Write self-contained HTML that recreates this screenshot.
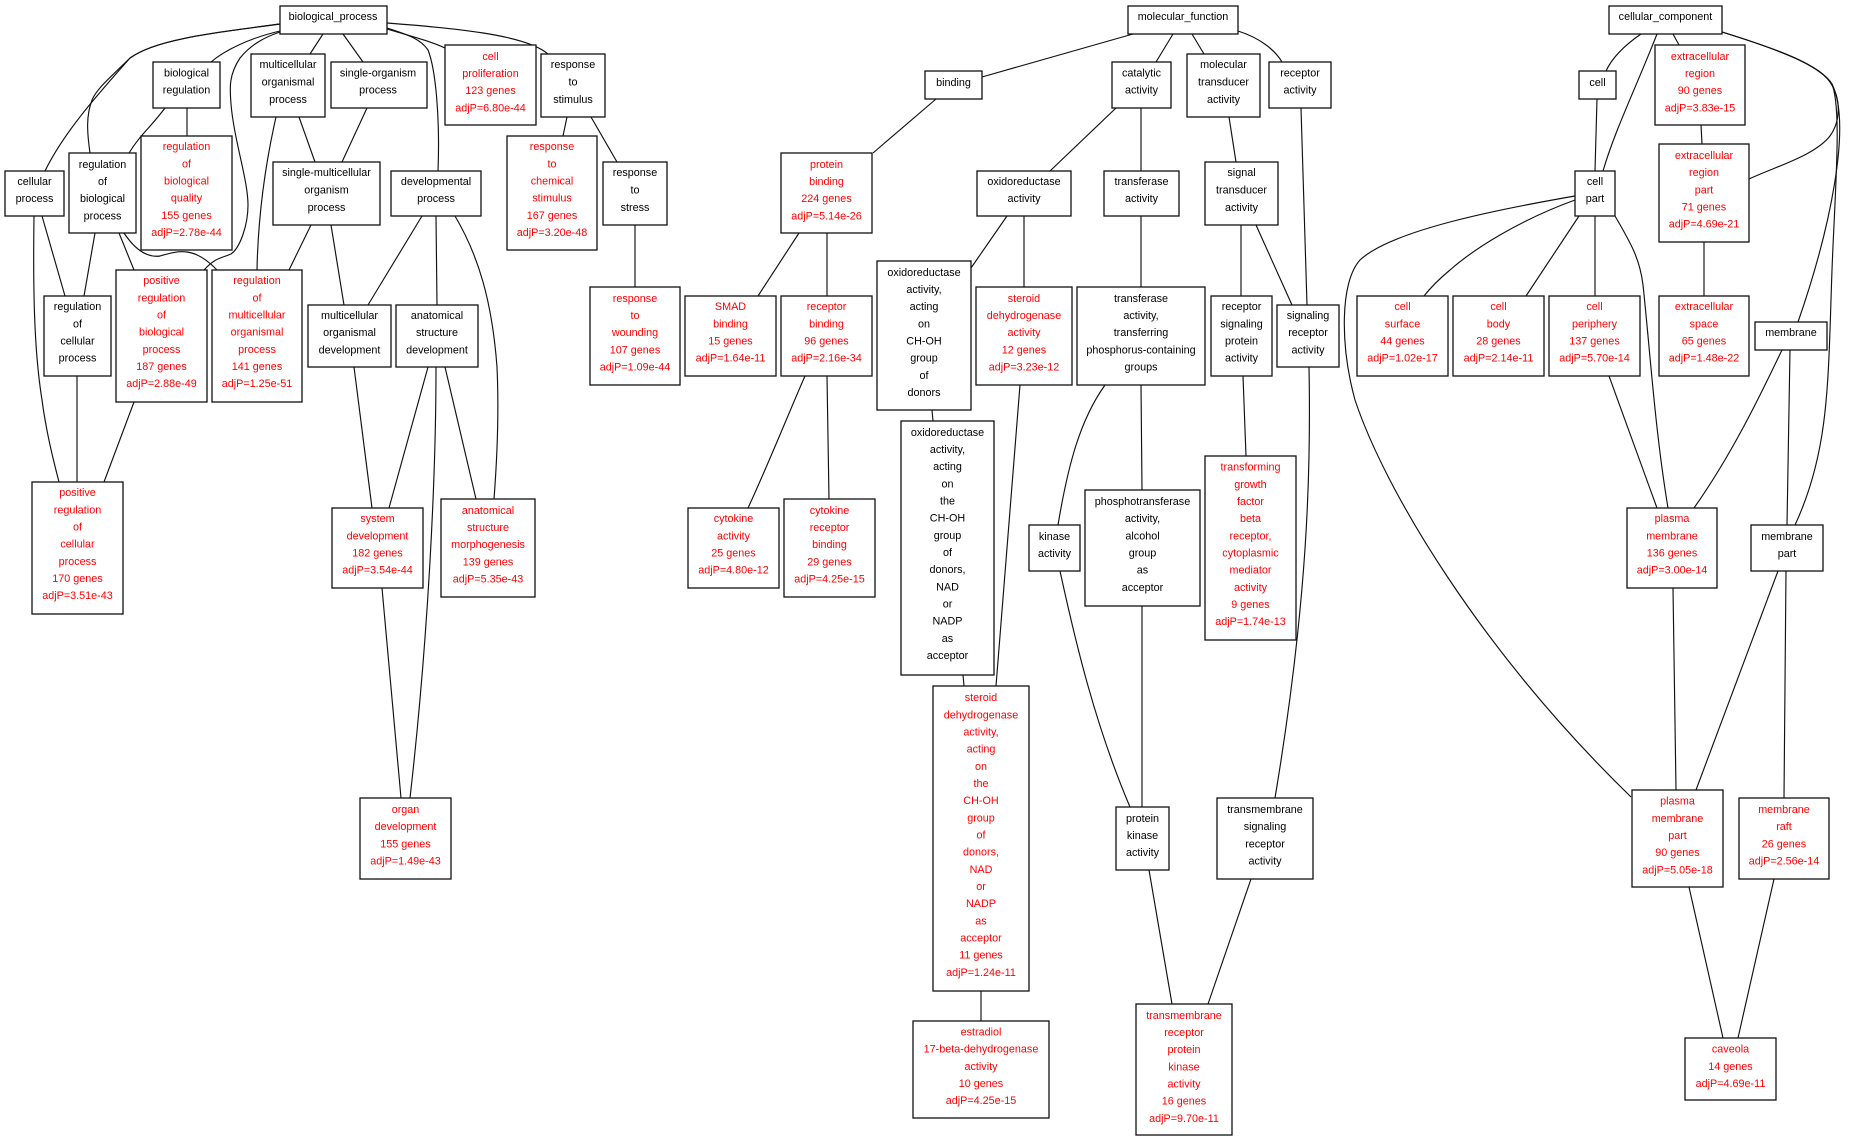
<!DOCTYPE html>
<html>
<head>
<meta charset="utf-8">
<style>
html,body{margin:0;padding:0;background:#fff;}
svg{display:block;}
text{font-family:"Liberation Sans",sans-serif;font-size:10.8px;text-anchor:middle;fill:#000;}
text.r{fill:#f00;}
rect{fill:#fff;stroke:#111;stroke-width:1.3;}
path{fill:none;stroke:#111;stroke-width:1.15;}
</style>
</head>
<body>
<svg xmlns="http://www.w3.org/2000/svg" width="1849" height="1141" viewBox="0 0 1849 1141">
<rect x="-2" y="-2" width="1853" height="1145" style="fill:#fff;stroke:none"/>
<g>
<path d="M280,24 C205,34 155,40 130,58 C102,90 65,130 45,171"/>
<path d="M280,24 C205,34 155,40 130,58 C112,76 97,88 92,100 C86,116 87,132 90,153"/>
<path d="M280,31 C250,38 225,50 211,62"/>
<path d="M280,32 C262,38 250,46 240,58 C228,76 230,90 231,104 C234,140 248,180 248,205 C248,225 240,248 231,254 C222,258 216,257 204,270"/>
<path d="M323,34 L310,54"/>
<path d="M343,34 L363,62"/>
<path d="M387,28 C405,34 420,38 428,50 C436,70 440,120 438,171"/>
<path d="M387,29 C410,36 430,41 445,48"/>
<path d="M387,23 C450,28 525,34 548,54"/>
<path d="M165,108 C150,128 140,135 129,153"/>
<path d="M187,108 L187,136"/>
<path d="M299,117 L315,162"/>
<path d="M276,117 C264,170 258,220 257,270"/>
<path d="M367,108 L342,162"/>
<path d="M311,225 L289,270"/>
<path d="M331,225 L344,305"/>
<path d="M422,216 L368,305"/>
<path d="M436,216 L437,305"/>
<path d="M455,216 C478,255 492,300 497,367 C499,410 497,460 494,499"/>
<path d="M567,117 L563,136"/>
<path d="M591,117 L617,162"/>
<path d="M635,225 L635,287"/>
<path d="M42,216 L65,296"/>
<path d="M34,216 C33,290 34,350 42,400 C46,430 52,455 59,482"/>
<path d="M95,233 L84,296"/>
<path d="M119,233 L134,270"/>
<path d="M124,233 C134,248 146,258 160,256 C180,250 195,247 217,270"/>
<path d="M77,376 L77,482"/>
<path d="M134,402 L104,482"/>
<path d="M354,367 L372,508"/>
<path d="M428,367 L389,508"/>
<path d="M436,367 C436,480 428,640 410,798"/>
<path d="M445,367 L476,499"/>
<path d="M382,588 L401,798"/>

<path d="M1133,34 L982,77"/>
<path d="M1173,34 L1156,62"/>
<path d="M1192,34 L1204,54"/>
<path d="M1238,31 C1260,38 1275,50 1282,62"/>
<path d="M936,99 L873,153"/>
<path d="M1116,108 L1050,171"/>
<path d="M1141,108 L1141,171"/>
<path d="M1229,117 L1236,162"/>
<path d="M1301,108 L1307,305"/>
<path d="M1241,225 L1241,296"/>
<path d="M1256,225 L1292,305"/>
<path d="M799,233 L758,296"/>
<path d="M827,233 L827,296"/>
<path d="M1007,216 L971,268"/>
<path d="M1024,216 L1024,287"/>
<path d="M1141,216 L1141,287"/>
<path d="M805,376 C790,410 768,465 748,508"/>
<path d="M827,376 L829,499"/>
<path d="M932,410 L933,421"/>
<path d="M963,675 L964,686"/>
<path d="M1020,385 L996,686"/>
<path d="M981,991 L981,1021"/>
<path d="M1105,385 C1080,420 1068,465 1058,525"/>
<path d="M1141,385 L1142,490"/>
<path d="M1060,571 C1075,640 1095,725 1130,807"/>
<path d="M1142,606 L1142,807"/>
<path d="M1149,870 L1172,1004"/>
<path d="M1251,879 L1208,1004"/>
<path d="M1243,376 L1246,456"/>
<path d="M1309,367 C1311,470 1308,600 1275,798"/>

<path d="M1641,34 C1625,45 1612,58 1606,71"/>
<path d="M1657,34 C1635,90 1615,130 1603,171"/>
<path d="M1673,34 L1679,45"/>
<path d="M1722,32 C1780,50 1818,65 1830,82 C1842,100 1840,122 1830,136 C1815,155 1780,165 1749,179"/>
<path d="M1722,32 C1780,50 1820,65 1832,84 C1852,125 1830,230 1798,322"/>
<path d="M1722,32 C1780,50 1820,65 1832,84 C1842,110 1835,190 1832,270 C1828,380 1830,450 1795,525"/>
<path d="M1597,99 L1595,171"/>
<path d="M1701,125 L1702,144"/>
<path d="M1704,242 L1704,296"/>
<path d="M1575,200 C1520,220 1475,248 1450,270 C1438,280 1431,287 1424,296"/>
<path d="M1579,216 L1526,296"/>
<path d="M1595,216 L1595,296"/>
<path d="M1615,216 C1632,245 1640,260 1643,285 C1650,350 1655,430 1668,508"/>
<path d="M1609,376 L1657,508"/>
<path d="M1782,350 C1765,385 1735,450 1694,508"/>
<path d="M1790,350 L1787,525"/>
<path d="M1575,196 C1500,209 1392,230 1360,260 C1340,282 1340,345 1355,400 C1385,490 1480,650 1631,797"/>
<path d="M1673,588 L1676,790"/>
<path d="M1778,571 L1696,790"/>
<path d="M1786,571 L1784,798"/>
<path d="M1689,887 L1723,1038"/>
<path d="M1774,879 L1738,1038"/>
</g>

<rect x="280" y="6" width="107" height="28"/><text x="333" y="20">biological_process</text>
<rect x="153" y="62" width="67" height="46"/><text x="186.500" y="76.500">biological<tspan x="186.500" dy="17">regulation</tspan></text>
<rect x="251" y="54" width="74" height="63"/><text x="288" y="68">multicellular<tspan x="288" dy="17.500">organismal</tspan><tspan x="288" dy="17.500">process</tspan></text>
<rect x="331" y="62" width="96" height="46"/><text x="378" y="76.500">single-organism<tspan x="378" dy="17">process</tspan></text>
<rect x="445" y="45" width="91" height="80"/><text class="r" x="490.500" y="60">cell<tspan x="490.500" dy="17">proliferation</tspan><tspan x="490.500" dy="17">123 genes</tspan><tspan x="490.500" dy="17.500">adjP=6.80e-44</tspan></text>
<rect x="541" y="54" width="64" height="63"/><text x="573" y="68">response<tspan x="573" dy="17.500">to</tspan><tspan x="573" dy="17.500">stimulus</tspan></text>
<rect x="141" y="136" width="91" height="114"/><text class="r" x="186.500" y="150">regulation<tspan x="186.500" dy="17.500">of</tspan><tspan x="186.500" dy="17">biological</tspan><tspan x="186.500" dy="17">quality</tspan><tspan x="186.500" dy="17.500">155 genes</tspan><tspan x="186.500" dy="17">adjP=2.78e-44</tspan></text>
<rect x="507" y="136" width="90" height="114"/><text class="r" x="552" y="150">response<tspan x="552" dy="17.500">to</tspan><tspan x="552" dy="17">chemical</tspan><tspan x="552" dy="17">stimulus</tspan><tspan x="552" dy="17.500">167 genes</tspan><tspan x="552" dy="17">adjP=3.20e-48</tspan></text>
<rect x="69" y="153" width="67" height="80"/><text x="102.500" y="168">regulation<tspan x="102.500" dy="17">of</tspan><tspan x="102.500" dy="17">biological</tspan><tspan x="102.500" dy="17.500">process</tspan></text>
<rect x="5" y="171" width="59" height="45"/><text x="34.500" y="185">cellular<tspan x="34.500" dy="17">process</tspan></text>
<rect x="273" y="162" width="107" height="63"/><text x="326.500" y="176">single-multicellular<tspan x="326.500" dy="17.500">organism</tspan><tspan x="326.500" dy="17.500">process</tspan></text>
<rect x="391" y="171" width="90" height="45"/><text x="436" y="185">developmental<tspan x="436" dy="17">process</tspan></text>
<rect x="603" y="162" width="64" height="63"/><text x="635" y="176">response<tspan x="635" dy="17.500">to</tspan><tspan x="635" dy="17.500">stress</tspan></text>
<rect x="116" y="270" width="91" height="132"/><text class="r" x="161.500" y="284">positive<tspan x="161.500" dy="17.500">regulation</tspan><tspan x="161.500" dy="17">of</tspan><tspan x="161.500" dy="17">biological</tspan><tspan x="161.500" dy="17.500">process</tspan><tspan x="161.500" dy="17">187 genes</tspan><tspan x="161.500" dy="17">adjP=2.88e-49</tspan></text>
<rect x="212" y="270" width="90" height="132"/><text class="r" x="257" y="284">regulation<tspan x="257" dy="17.500">of</tspan><tspan x="257" dy="17">multicellular</tspan><tspan x="257" dy="17">organismal</tspan><tspan x="257" dy="17.500">process</tspan><tspan x="257" dy="17">141 genes</tspan><tspan x="257" dy="17">adjP=1.25e-51</tspan></text>
<rect x="44" y="296" width="67" height="80"/><text x="77.500" y="310">regulation<tspan x="77.500" dy="17.500">of</tspan><tspan x="77.500" dy="17">cellular</tspan><tspan x="77.500" dy="17">process</tspan></text>
<rect x="308" y="305" width="83" height="62"/><text x="349.500" y="319">multicellular<tspan x="349.500" dy="17">organismal</tspan><tspan x="349.500" dy="17.500">development</tspan></text>
<rect x="396" y="305" width="82" height="62"/><text x="437" y="319">anatomical<tspan x="437" dy="17">structure</tspan><tspan x="437" dy="17.500">development</tspan></text>
<rect x="590" y="287" width="90" height="98"/><text class="r" x="635" y="302">response<tspan x="635" dy="17">to</tspan><tspan x="635" dy="17">wounding</tspan><tspan x="635" dy="17.500">107 genes</tspan><tspan x="635" dy="17">adjP=1.09e-44</tspan></text>
<rect x="32" y="482" width="91" height="132"/><text class="r" x="77.500" y="496">positive<tspan x="77.500" dy="17.500">regulation</tspan><tspan x="77.500" dy="17">of</tspan><tspan x="77.500" dy="17">cellular</tspan><tspan x="77.500" dy="17.500">process</tspan><tspan x="77.500" dy="17">170 genes</tspan><tspan x="77.500" dy="17">adjP=3.51e-43</tspan></text>
<rect x="332" y="508" width="91" height="80"/><text class="r" x="377.500" y="522">system<tspan x="377.500" dy="17.500">development</tspan><tspan x="377.500" dy="17">182 genes</tspan><tspan x="377.500" dy="17">adjP=3.54e-44</tspan></text>
<rect x="441" y="499" width="94" height="98"/><text class="r" x="488" y="514">anatomical<tspan x="488" dy="17">structure</tspan><tspan x="488" dy="17">morphogenesis</tspan><tspan x="488" dy="17.500">139 genes</tspan><tspan x="488" dy="17">adjP=5.35e-43</tspan></text>
<rect x="360" y="798" width="91" height="81"/><text class="r" x="405.500" y="813">organ<tspan x="405.500" dy="17">development</tspan><tspan x="405.500" dy="17.500">155 genes</tspan><tspan x="405.500" dy="17">adjP=1.49e-43</tspan></text>

<rect x="1128" y="6" width="110" height="28"/><text x="1183" y="20">molecular_function</text>
<rect x="925" y="71" width="57" height="28"/><text x="953.500" y="86">binding</text>
<rect x="1112" y="62" width="59" height="46"/><text x="1141.500" y="76.500">catalytic<tspan x="1141.500" dy="17">activity</tspan></text>
<rect x="1187" y="54" width="73" height="63"/><text x="1223.500" y="68">molecular<tspan x="1223.500" dy="17.500">transducer</tspan><tspan x="1223.500" dy="17.500">activity</tspan></text>
<rect x="1269" y="62" width="62" height="46"/><text x="1300" y="76.500">receptor<tspan x="1300" dy="17">activity</tspan></text>
<rect x="781" y="153" width="91" height="80"/><text class="r" x="826.500" y="168">protein<tspan x="826.500" dy="17">binding</tspan><tspan x="826.500" dy="17">224 genes</tspan><tspan x="826.500" dy="17.500">adjP=5.14e-26</tspan></text>
<rect x="977" y="171" width="94" height="45"/><text x="1024" y="185">oxidoreductase<tspan x="1024" dy="17">activity</tspan></text>
<rect x="1104" y="171" width="75" height="45"/><text x="1141.500" y="185">transferase<tspan x="1141.500" dy="17">activity</tspan></text>
<rect x="1205" y="162" width="73" height="63"/><text x="1241.500" y="176">signal<tspan x="1241.500" dy="17.500">transducer</tspan><tspan x="1241.500" dy="17.500">activity</tspan></text>
<rect x="685" y="296" width="91" height="80"/><text class="r" x="730.500" y="310">SMAD<tspan x="730.500" dy="17.500">binding</tspan><tspan x="730.500" dy="17">15 genes</tspan><tspan x="730.500" dy="17">adjP=1.64e-11</tspan></text>
<rect x="781" y="296" width="91" height="80"/><text class="r" x="826.500" y="310">receptor<tspan x="826.500" dy="17.500">binding</tspan><tspan x="826.500" dy="17">96 genes</tspan><tspan x="826.500" dy="17">adjP=2.16e-34</tspan></text>
<rect x="877" y="261" width="94" height="149"/><text x="924" y="276">oxidoreductase<tspan x="924" dy="17">activity,</tspan><tspan x="924" dy="17">acting</tspan><tspan x="924" dy="17.500">on</tspan><tspan x="924" dy="17">CH-OH</tspan><tspan x="924" dy="17">group</tspan><tspan x="924" dy="17.500">of</tspan><tspan x="924" dy="17">donors</tspan></text>
<rect x="976" y="287" width="96" height="98"/><text class="r" x="1024" y="302">steroid<tspan x="1024" dy="17">dehydrogenase</tspan><tspan x="1024" dy="17">activity</tspan><tspan x="1024" dy="17.500">12 genes</tspan><tspan x="1024" dy="17">adjP=3.23e-12</tspan></text>
<rect x="1077" y="287" width="128" height="98"/><text x="1141" y="302">transferase<tspan x="1141" dy="17">activity,</tspan><tspan x="1141" dy="17">transferring</tspan><tspan x="1141" dy="17.500">phosphorus-containing</tspan><tspan x="1141" dy="17">groups</tspan></text>
<rect x="1211" y="296" width="61" height="80"/><text x="1241.500" y="310">receptor<tspan x="1241.500" dy="17.500">signaling</tspan><tspan x="1241.500" dy="17">protein</tspan><tspan x="1241.500" dy="17">activity</tspan></text>
<rect x="1277" y="305" width="62" height="62"/><text x="1308" y="319">signaling<tspan x="1308" dy="17">receptor</tspan><tspan x="1308" dy="17.500">activity</tspan></text>
<rect x="688" y="508" width="91" height="80"/><text class="r" x="733.500" y="522">cytokine<tspan x="733.500" dy="17.500">activity</tspan><tspan x="733.500" dy="17">25 genes</tspan><tspan x="733.500" dy="17">adjP=4.80e-12</tspan></text>
<rect x="784" y="499" width="91" height="98"/><text class="r" x="829.500" y="514">cytokine<tspan x="829.500" dy="17">receptor</tspan><tspan x="829.500" dy="17">binding</tspan><tspan x="829.500" dy="17.500">29 genes</tspan><tspan x="829.500" dy="17">adjP=4.25e-15</tspan></text>
<rect x="901" y="421" width="93" height="254"/><text x="947.500" y="436">oxidoreductase<tspan x="947.500" dy="17">activity,</tspan><tspan x="947.500" dy="17">acting</tspan><tspan x="947.500" dy="17.500">on</tspan><tspan x="947.500" dy="17">the</tspan><tspan x="947.500" dy="17">CH-OH</tspan><tspan x="947.500" dy="17.500">group</tspan><tspan x="947.500" dy="17">of</tspan><tspan x="947.500" dy="17">donors,</tspan><tspan x="947.500" dy="17.500">NAD</tspan><tspan x="947.500" dy="17">or</tspan><tspan x="947.500" dy="17">NADP</tspan><tspan x="947.500" dy="17.500">as</tspan><tspan x="947.500" dy="17">acceptor</tspan></text>
<rect x="933" y="686" width="96" height="305"/><text class="r" x="981" y="701">steroid<tspan x="981" dy="17.500">dehydrogenase</tspan><tspan x="981" dy="17">activity,</tspan><tspan x="981" dy="17">acting</tspan><tspan x="981" dy="17.500">on</tspan><tspan x="981" dy="17">the</tspan><tspan x="981" dy="17">CH-OH</tspan><tspan x="981" dy="17.500">group</tspan><tspan x="981" dy="17">of</tspan><tspan x="981" dy="17">donors,</tspan><tspan x="981" dy="17.500">NAD</tspan><tspan x="981" dy="17">or</tspan><tspan x="981" dy="17">NADP</tspan><tspan x="981" dy="17.500">as</tspan><tspan x="981" dy="17">acceptor</tspan><tspan x="981" dy="17">11 genes</tspan><tspan x="981" dy="17.500">adjP=1.24e-11</tspan></text>
<rect x="913" y="1021" width="136" height="97"/><text class="r" x="981" y="1035.500">estradiol<tspan x="981" dy="17">17-beta-dehydrogenase</tspan><tspan x="981" dy="17.500">activity</tspan><tspan x="981" dy="17">10 genes</tspan><tspan x="981" dy="17">adjP=4.25e-15</tspan></text>
<rect x="1029" y="525" width="51" height="46"/><text x="1054.500" y="540">kinase<tspan x="1054.500" dy="17">activity</tspan></text>
<rect x="1085" y="490" width="115" height="116"/><text x="1142.500" y="505">phosphotransferase<tspan x="1142.500" dy="17">activity,</tspan><tspan x="1142.500" dy="17.500">alcohol</tspan><tspan x="1142.500" dy="17">group</tspan><tspan x="1142.500" dy="17">as</tspan><tspan x="1142.500" dy="17.500">acceptor</tspan></text>
<rect x="1116" y="807" width="53" height="63"/><text x="1142.500" y="822">protein<tspan x="1142.500" dy="17">kinase</tspan><tspan x="1142.500" dy="17">activity</tspan></text>
<rect x="1136" y="1004" width="96" height="131"/><text class="r" x="1184" y="1019">transmembrane<tspan x="1184" dy="17">receptor</tspan><tspan x="1184" dy="17">protein</tspan><tspan x="1184" dy="17.500">kinase</tspan><tspan x="1184" dy="17">activity</tspan><tspan x="1184" dy="17">16 genes</tspan><tspan x="1184" dy="17.500">adjP=9.70e-11</tspan></text>
<rect x="1217" y="798" width="96" height="81"/><text x="1265" y="813">transmembrane<tspan x="1265" dy="17">signaling</tspan><tspan x="1265" dy="17.500">receptor</tspan><tspan x="1265" dy="17">activity</tspan></text>
<rect x="1205" y="456" width="91" height="184"/><text class="r" x="1250.500" y="470.500">transforming<tspan x="1250.500" dy="17.500">growth</tspan><tspan x="1250.500" dy="17">factor</tspan><tspan x="1250.500" dy="17">beta</tspan><tspan x="1250.500" dy="17.500">receptor,</tspan><tspan x="1250.500" dy="17">cytoplasmic</tspan><tspan x="1250.500" dy="17">mediator</tspan><tspan x="1250.500" dy="17.500">activity</tspan><tspan x="1250.500" dy="17">9 genes</tspan><tspan x="1250.500" dy="17">adjP=1.74e-13</tspan></text>

<rect x="1609" y="6" width="113" height="28"/><text x="1665.500" y="20">cellular_component</text>
<rect x="1579" y="71" width="37" height="28"/><text x="1597.500" y="86">cell</text>
<rect x="1655" y="45" width="90" height="80"/><text class="r" x="1700" y="60">extracellular<tspan x="1700" dy="17">region</tspan><tspan x="1700" dy="17">90 genes</tspan><tspan x="1700" dy="17.500">adjP=3.83e-15</tspan></text>
<rect x="1659" y="144" width="90" height="98"/><text class="r" x="1704" y="159">extracellular<tspan x="1704" dy="17">region</tspan><tspan x="1704" dy="17.500">part</tspan><tspan x="1704" dy="17">71 genes</tspan><tspan x="1704" dy="17">adjP=4.69e-21</tspan></text>
<rect x="1575" y="171" width="40" height="45"/><text x="1595" y="185">cell<tspan x="1595" dy="17">part</tspan></text>
<rect x="1357" y="296" width="91" height="80"/><text class="r" x="1402.500" y="310">cell<tspan x="1402.500" dy="17.500">surface</tspan><tspan x="1402.500" dy="17">44 genes</tspan><tspan x="1402.500" dy="17">adjP=1.02e-17</tspan></text>
<rect x="1453" y="296" width="91" height="80"/><text class="r" x="1498.500" y="310">cell<tspan x="1498.500" dy="17.500">body</tspan><tspan x="1498.500" dy="17">28 genes</tspan><tspan x="1498.500" dy="17">adjP=2.14e-11</tspan></text>
<rect x="1549" y="296" width="91" height="80"/><text class="r" x="1594.500" y="310">cell<tspan x="1594.500" dy="17.500">periphery</tspan><tspan x="1594.500" dy="17">137 genes</tspan><tspan x="1594.500" dy="17">adjP=5.70e-14</tspan></text>
<rect x="1659" y="296" width="90" height="80"/><text class="r" x="1704" y="310">extracellular<tspan x="1704" dy="17.500">space</tspan><tspan x="1704" dy="17">65 genes</tspan><tspan x="1704" dy="17">adjP=1.48e-22</tspan></text>
<rect x="1755" y="322" width="72" height="28"/><text x="1791" y="336">membrane</text>
<rect x="1627" y="508" width="90" height="80"/><text class="r" x="1672" y="522">plasma<tspan x="1672" dy="17.500">membrane</tspan><tspan x="1672" dy="17">136 genes</tspan><tspan x="1672" dy="17">adjP=3.00e-14</tspan></text>
<rect x="1751" y="525" width="72" height="46"/><text x="1787" y="540">membrane<tspan x="1787" dy="17">part</tspan></text>
<rect x="1632" y="790" width="91" height="97"/><text class="r" x="1677.500" y="804.500">plasma<tspan x="1677.500" dy="17.500">membrane</tspan><tspan x="1677.500" dy="17">part</tspan><tspan x="1677.500" dy="17">90 genes</tspan><tspan x="1677.500" dy="17.500">adjP=5.05e-18</tspan></text>
<rect x="1739" y="798" width="90" height="81"/><text class="r" x="1784" y="813">membrane<tspan x="1784" dy="17">raft</tspan><tspan x="1784" dy="17.500">26 genes</tspan><tspan x="1784" dy="17">adjP=2.56e-14</tspan></text>
<rect x="1685" y="1038" width="91" height="62"/><text class="r" x="1730.500" y="1052.500">caveola<tspan x="1730.500" dy="17.500">14 genes</tspan><tspan x="1730.500" dy="17">adjP=4.69e-11</tspan></text>
</svg>
</body>
</html>
